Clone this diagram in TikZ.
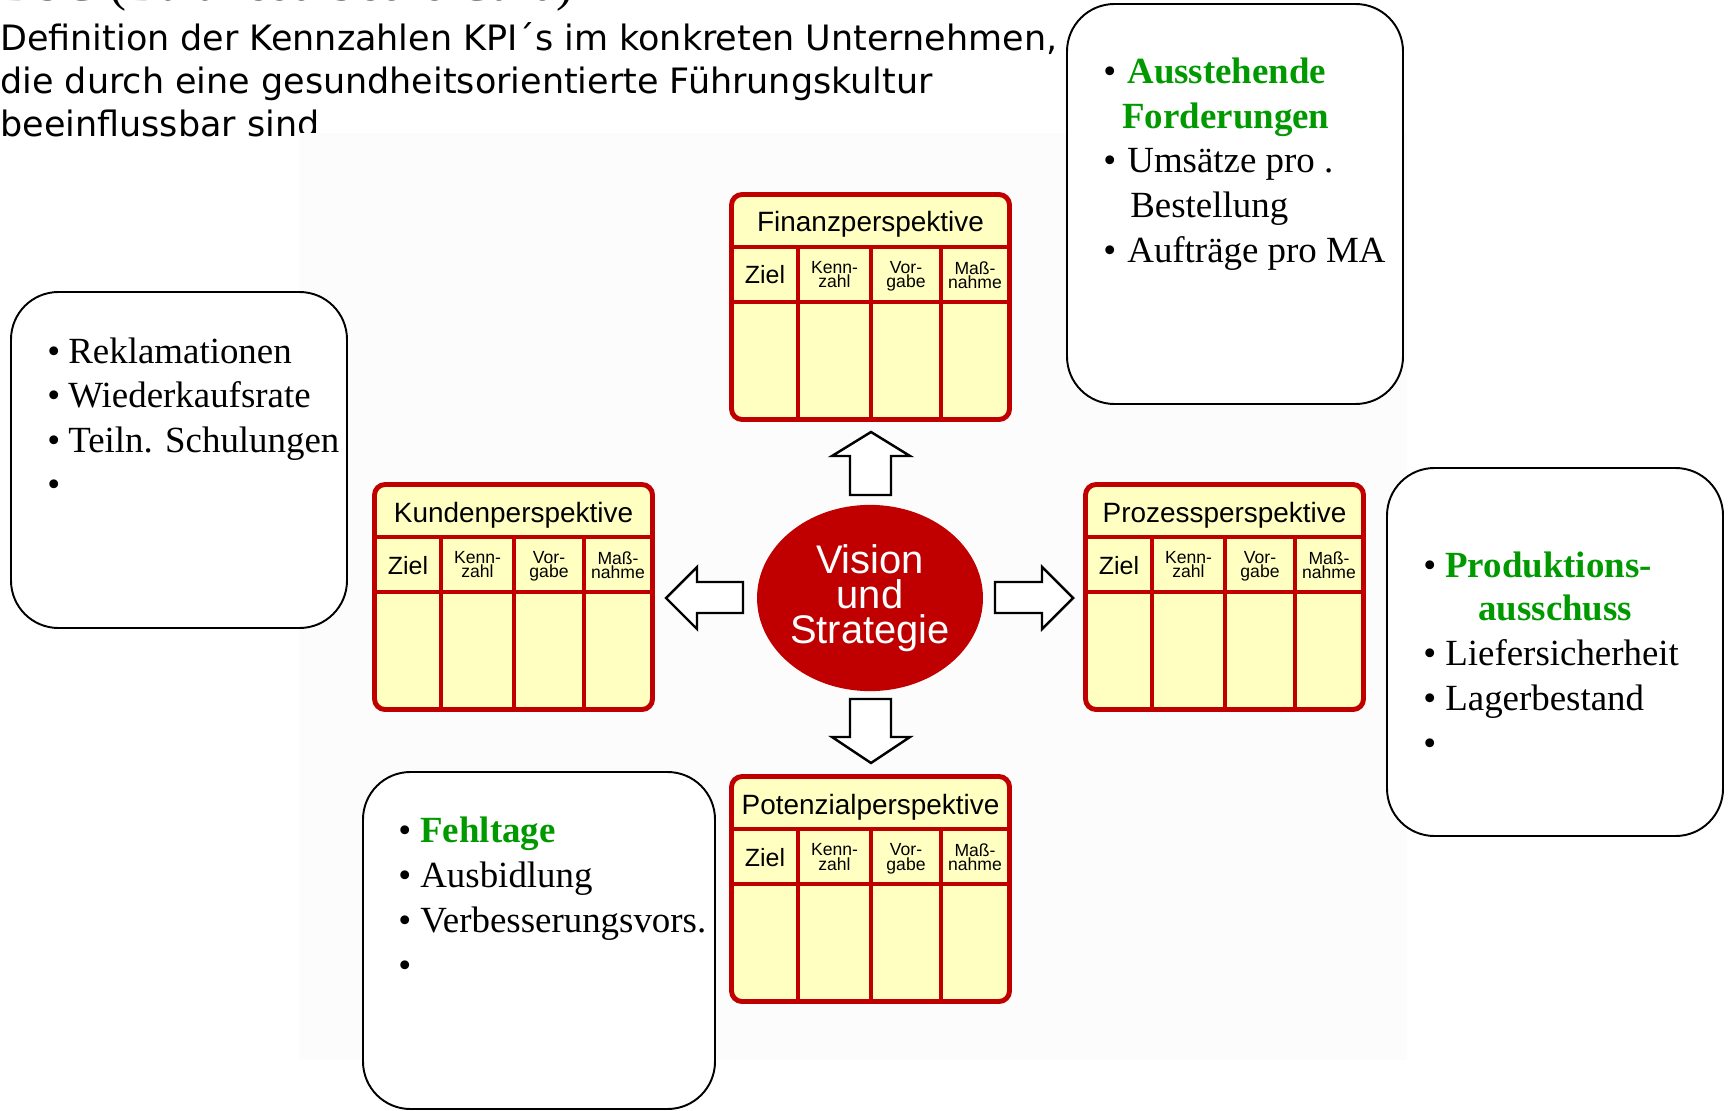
\documentclass[tikz,border=0pt]{standalone}
\usepackage{fontspec}
\setmainfont{Liberation Serif}
\newfontfamily\arialf{Liberation Sans}
\newfontfamily\comicf{DejaVu Sans}
\usetikzlibrary{shapes.geometric}
\definecolor{bscred}{HTML}{C00000}
\definecolor{bscyellow}{HTML}{FFFFC2}
\definecolor{kpigreen}{HTML}{009900}
\definecolor{picbg}{HTML}{FCFCFC}
\tikzset{
 tabframe/.style={draw=bscred, line width=2.8pt, rounded corners=6pt},
 tabline/.style={draw=bscred, line width=2.8pt},
 tabtitle/.style={anchor=base, inner sep=0pt, font=\arialf\fontsize{15.9}{19}\selectfont},
 tabziel/.style={anchor=base, inner sep=0pt, font=\arialf\fontsize{14.2}{17}\selectfont},
 tabsmall/.style={anchor=north, inner sep=0pt, align=center, font=\arialf\fontsize{10}{8}\selectfont},
 notebox/.style={draw=black, line width=1.1pt, fill=white, rounded corners=27pt},
 bul/.style={anchor=base west, inner sep=0pt, font=\fontsize{21}{25}\selectfont},
 kpitem/.style={anchor=base west, inner sep=0pt, font=\fontsize{21}{25}\selectfont},
 kpigr/.style={anchor=base west, inner sep=0pt, text=kpigreen, font=\bfseries\fontsize{21}{25}\selectfont},
 blockarrow/.style={draw=black, line width=1.4pt, fill=white, line join=miter},
 headline/.style={anchor=base west, inner sep=0pt, font=\comicf\fontsize{19.9}{25}\selectfont},
}
\newcommand\bsctab[4]{%
\begin{scope}[shift={(#2,#3)}]
 \fill[bscyellow, rounded corners=6pt] (2.5,2.5) rectangle (280.5,227.5);
 \draw[tabline] (2.5,55) -- (280.5,55);
 \draw[tabline] (2.5,110) -- (280.5,110);
 \draw[tabline] (69,55) -- (69,227.5);
 \draw[tabline] (142,55) -- (142,227.5);
 \draw[tabline] (212,55) -- (212,227.5);
 \draw[tabframe] (2.5,2.5) rectangle (280.5,227.5);
 \node[tabtitle] (#1-title) at (141.5,40) {#4};
 \node[tabziel] (#1-ziel) at (36,92) {Ziel};
 \node[tabsmall] (#1-kenn) at (105.5,69.5) {Kenn-\\zahl};
 \node[tabsmall] (#1-vor) at (177,69.5) {Vor-\\gabe};
 \node[tabsmall] (#1-mass) at (246,69.5) {Maß-\\nahme};
\end{scope}}
\begin{document}
\begin{tikzpicture}[x=0.02cm, y=-0.02cm]
\useasboundingbox (0,0) rectangle (1730,1111);
\fill[white] (0,0) rectangle (1730,1111);
% heading
\node[anchor=base west, inner sep=0pt, font=\fontsize{29}{34}\selectfont] (bsc) at (0,1) {BSC (Balanced Score Card)};
\node[headline] (h1) at (0,51) {Definition der Kennzahlen KPI´s im konkreten Unternehmen,};
\node[headline] (h2) at (0,94) {die durch eine gesundheitsorientierte Führungskultur};
\node[headline] (h3) at (0,137) {beeinflussbar sind};
% faint picture background
\fill[picbg] (299,133) rectangle (1407,1060);
% tables
\bsctab{fin}{729}{192}{Finanzperspektive}
\bsctab{kun}{372}{482}{Kundenperspektive}
\bsctab{pro}{1083}{482}{Prozessperspektive}
\bsctab{pot}{729}{774}{Potenzialperspektive}
% vision
\node[ellipse, fill=bscred, minimum width=128.6pt, minimum height=106pt, inner sep=0pt, text=white, align=center, font=\arialf\fontsize{22.7}{19.8}\selectfont] (vision) at (870,598) {Vision\\und\\Strategie};
% block arrows
\draw[blockarrow] (850,495) -- (850,456) -- (832,456) -- (871,432) -- (910,456) -- (891,456) -- (891,495) -- cycle;
\draw[blockarrow] (850,699) -- (850,737) -- (832,737) -- (871,763) -- (910,737) -- (891,737) -- (891,699) -- cycle;
\draw[blockarrow] (995,582) -- (1042,582) -- (1042,567) -- (1073,598) -- (1042,629) -- (1042,613) -- (995,613) -- cycle;
\draw[blockarrow] (743,582) -- (697,582) -- (697,567) -- (666,598) -- (697,629) -- (697,613) -- (743,613) -- cycle;
% note boxes
\draw[notebox] (1067,4) rectangle (1403,404);
\draw[notebox] (11,292) rectangle (347,628);
\draw[notebox] (363,772) rectangle (715,1109);
\draw[notebox] (1387,468) rectangle (1723,836);
% Finanz notes
\node[bul] (fb1) at (1103,84) {•};
\node[kpigr] (f1) at (1127,84) {Ausstehende};
\node[kpigr] (f1b) at (1122,129) {Forderungen};
\node[bul] (fb2) at (1103,173) {•};
\node[kpitem] (f2) at (1127,173) {Umsätze pro .};
\node[kpitem] (f2b) at (1130,218) {Bestellung};
\node[bul] (fb3) at (1103,263) {•};
\node[kpitem] (f3) at (1127,263) {Aufträge pro MA};
% Kunden notes
\node[bul] (kb1) at (47,363) {•};
\node[kpitem] (k1) at (68,363) {Reklamationen};
\node[bul] (kb2) at (47,407) {•};
\node[kpitem] (k2) at (68,407) {Wiederkaufsrate};
\node[bul] (kb3) at (47,452) {•};
\node[kpitem] (k3) at (68,452) {Teiln. Schulungen};
\node[bul] (kb4) at (47,496) {•};
% Prozess notes
\node[bul] (pb1) at (1423,577) {•};
\node[kpigr] (p1) at (1445,577) {Produktions-};
\node[kpigr] (p1b) at (1478,620) {ausschuss};
\node[bul] (pb2) at (1423,665) {•};
\node[kpitem] (p2) at (1445,665) {Liefersicherheit};
\node[bul] (pb3) at (1423,710) {•};
\node[kpitem] (p3) at (1445,710) {Lagerbestand};
\node[bul] (pb4) at (1423,755) {•};
% Potenzial notes
\node[bul] (ob1) at (398,842) {•};
\node[kpigr] (o1) at (420,842) {Fehltage};
\node[bul] (ob2) at (398,887) {•};
\node[kpitem] (o2) at (420,887) {Ausbidlung};
\node[bul] (ob3) at (398,932) {•};
\node[kpitem] (o3) at (420,932) {Verbesserungsvors.};
\node[bul] (ob4) at (398,977) {•};
\end{tikzpicture}
\end{document}
